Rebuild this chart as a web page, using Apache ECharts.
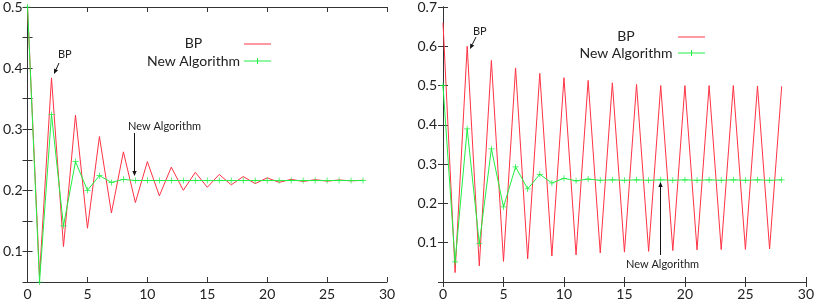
<!DOCTYPE html>
<html><head><meta charset="utf-8">
<script src="https://cdn.jsdelivr.net/npm/echarts@6/dist/echarts.min.js"></script>
<style>html,body{margin:0;padding:0;background:#fff}#c{width:817px;height:301px}</style>
</head><body><div id="c"></div>
<script>
// x values (iterations)
const iterations = [0,1,2,3,4,5,6,7,8,9,10,11,12,13,14,15,16,17,18,19,20,21,22,23,24,25,26,27,28];
// left panel
const leftBP = [0.5,0.06,0.384,0.108,0.323,0.138,0.288,0.163,0.263,0.18,0.247,0.191,0.238,0.2,0.2295,0.205,0.226,0.209,0.2226,0.211,0.2205,0.213,0.218,0.2145,0.2175,0.215,0.217,0.2155,0.2165];
const leftNew = [0.5,0.05,0.324,0.142,0.247,0.2,0.224,0.213,0.218,0.216,0.216,0.216,0.216,0.216,0.216,0.216,0.216,0.216,0.216,0.216,0.216,0.216,0.216,0.216,0.216,0.216,0.216,0.216,0.216];
// right panel
const rightBP = [0.66,0.024,0.6,0.041,0.564,0.0525,0.545,0.059,0.531,0.066,0.52,0.069,0.513,0.074,0.507,0.076,0.503,0.078,0.5,0.08,0.5,0.0817,0.5,0.0825,0.5,0.083,0.499,0.084,0.498];
const rightNew = [0.5,0.051,0.39,0.0975,0.339,0.191,0.293,0.237,0.274,0.252,0.264,0.2575,0.262,0.259,0.26,0.259,0.26,0.259,0.26,0.259,0.26,0.259,0.26,0.259,0.26,0.259,0.26,0.259,0.26];
const xTicks = [0,5,10,15,20,25,30];
const seriesNames = ['BP','New Algorithm'];

const FONT = 'Lato';
const AX = '#333';
const RED = '#ff3344';
const GREEN = '#22ee44';
const PLUS = 'path://M-0.12,-1H0.12V-0.12H1V0.12H0.12V1H-0.12V0.12H-1V-0.12H-0.12Z';

function pairs(ys){ return iterations.map((x,i)=>[x,ys[i]]); }

const grids = [
  {left:27, right:430, top:4, bottom:18},
  {left:443, right:10, top:4, bottom:18}
];
const xAxes = [], yAxes = [];
grids.forEach((g,gi)=>{
  const xb = {type:'value', gridIndex:gi, min:0, max:30, interval:5,
    axisLine:{lineStyle:{color:AX,width:1}}, axisTick:{inside:true,length:5,lineStyle:{color:AX}},
    splitLine:{show:false}};
  xAxes.push(Object.assign({}, xb, {position:'bottom',
    axisLabel:{fontFamily:FONT,fontSize:14,color:'#222',margin:5}}));
  xAxes.push(Object.assign({}, xb, {position:'top', axisLabel:{show:false}}));
});
const yl = {type:'value', gridIndex:0, min:0.05, max:0.5, interval:0.05,
  axisLine:{show:true,lineStyle:{color:AX}}, axisTick:{show:true,inside:true,length:5,lineStyle:{color:AX}}, splitLine:{show:false}};
yAxes.push(Object.assign({}, yl, {position:'left', axisLabel:{fontFamily:FONT,fontSize:14,color:'#222',margin:5,
  formatter:v=>{const r=Math.round(v*100);return r%10===0?(r/100).toFixed(1):'';}}}));
yAxes.push(Object.assign({}, yl, {position:'right', axisLabel:{show:false}}));
const yr = {type:'value', gridIndex:1, min:0, max:0.7, interval:0.1,
  axisLine:{show:true,lineStyle:{color:AX}}, axisTick:{show:true,inside:true,length:5,lineStyle:{color:AX}}, splitLine:{show:false}};
yAxes.push(Object.assign({}, yr, {position:'left', axisLabel:{fontFamily:FONT,fontSize:14,color:'#222',margin:6,
  formatter:v=>{const r=Math.round(v*10);return r===0?'':(r/10).toFixed(1);}}}));
yAxes.push(Object.assign({}, yr, {position:'right', axisLabel:{show:false}}));

function red(data, xi, yi){ return {name:seriesNames[0], type:'line', xAxisIndex:xi, yAxisIndex:yi, data:pairs(data),
  showSymbol:false, symbol:'none', lineStyle:{color:RED,width:1}, itemStyle:{color:RED}, animation:false, z:3, clip:true}; }
function green(data, xi, yi){ return {name:seriesNames[1], type:'line', xAxisIndex:xi, yAxisIndex:yi, data:pairs(data),
  symbol:PLUS, symbolSize:6, showSymbol:true, lineStyle:{color:GREEN,width:1}, itemStyle:{color:GREEN}, animation:false, z:4, clip:true}; }

function arrow(x1,y1,x2,y2){
  const a=Math.atan2(y2-y1,x2-x1), L=5, W=2.2;
  const bx=x2-L*Math.cos(a), by=y2-L*Math.sin(a);
  const px=-Math.sin(a)*W, py=Math.cos(a)*W;
  return [
    {type:'line', shape:{x1,y1,x2:bx,y2:by}, style:{stroke:'#111',lineWidth:1}, z:10},
    {type:'polygon', shape:{points:[[x2,y2],[bx+px,by+py],[bx-px,by-py]]}, style:{fill:'#111'}, z:10}
  ];
}
function txt(x,y,t,size,align){ return {type:'text', x, y, z:10, style:{text:t, font:size+'px '+FONT, fill:'#222', textAlign:align||'left', textVerticalAlign:'middle'}}; }
function legend(cx, lx, yBP, yNA){
  return [
    txt(cx, yBP, seriesNames[0], 14, 'center'),
    txt(cx, yNA, seriesNames[1], 14, 'center'),
    {type:'line', shape:{x1:lx,y1:yBP+1,x2:lx+27,y2:yBP+1}, style:{stroke:RED,lineWidth:1}, z:10},
    {type:'line', shape:{x1:lx,y1:yNA,x2:lx+27,y2:yNA}, style:{stroke:GREEN,lineWidth:1}, z:10},
    {type:'line', shape:{x1:lx+13.5,y1:yNA-3,x2:lx+13.5,y2:yNA+3}, style:{stroke:GREEN,lineWidth:1}, z:10}
  ];
}

const graphic = [].concat(
  legend(193.5, 244, 43, 61),
  legend(626, 678, 36, 53),
  [txt(58, 54, 'BP', 11)], arrow(59,63,54,74),
  [txt(128, 126, 'New Algorithm', 11)], arrow(134.5,133,134.5,176),
  [txt(473, 31, 'BP', 11)], arrow(476,37,470,49),
  [txt(626, 264, 'New Algorithm', 11)], arrow(660.5,255,660.5,182)
);

const chart = echarts.init(document.getElementById('c'), null, {renderer:'canvas'});
chart.setOption({
  animation:false,
  backgroundColor:'#fff',
  grid:grids,
  xAxis:xAxes,
  yAxis:yAxes,
  series:[ red(leftBP,0,0), green(leftNew,0,0), red(rightBP,2,2), green(rightNew,2,2) ],
  graphic:graphic
});
</script></body></html>
